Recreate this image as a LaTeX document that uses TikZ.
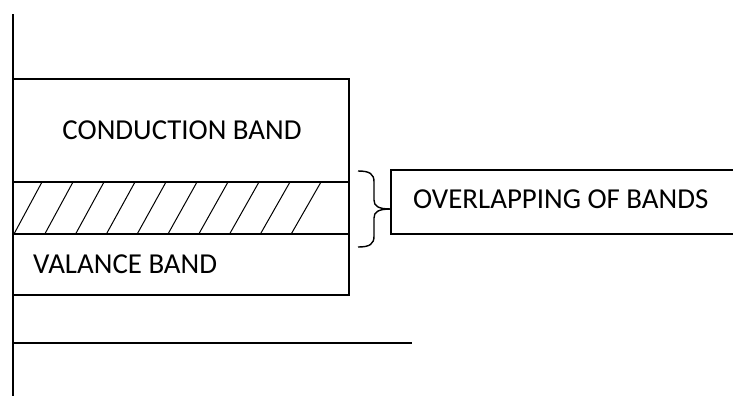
\documentclass[tikz,border=0pt]{standalone}
\usepackage{fontspec}
\setmainfont{Carlito}
\begin{document}
\begin{tikzpicture}[x=1bp,y=-1bp,
  band/.style={draw=black,line width=1.4bp},
  axis/.style={draw=black,line width=2bp},
  lbl/.style={inner sep=0pt,font=\fontsize{29}{31}\selectfont}]
\useasboundingbox (0,0) rectangle (733,396);
% axes
\draw[axis] (13,14) -- (13,396);
\draw[axis] (13,342.5) -- (412,342.5);
% bands
\draw[band] (13,79) rectangle (349,182);
\draw[band] (13,182) rectangle (349,234);
\draw[band] (13,234) -- (13,295) -- (349,295) -- (349,234);
% hatching
\foreach \i in {0,...,9}{
  \draw[line width=1bp] ({14+30.8*\i},234) -- ({42+31*\i},182);
}
% labels
\node[lbl,anchor=base] (cb) at (182,139.5) {CONDUCTION BAND};
\node[lbl,anchor=base west] (vb) at (33,273) {VALANCE BAND};
% brace
\draw[line width=1.4bp] (358,171) .. controls (370,171) and (374,174) .. (374,182) -- (374,200)
  .. controls (374,206) and (378,209) .. (391,209);
\draw[line width=1.4bp] (358,247) .. controls (370,247) and (374,244) .. (374,236) -- (374,218)
  .. controls (374,212) and (378,209) .. (391,209);
% overlap box (right side outside picture)
\draw[band] (733,170) -- (391,170) -- (391,234) -- (733,234);
\node[lbl,anchor=base west] (ov) at (413,208) {OVERLAPPING OF BANDS};
\end{tikzpicture}
\end{document}
